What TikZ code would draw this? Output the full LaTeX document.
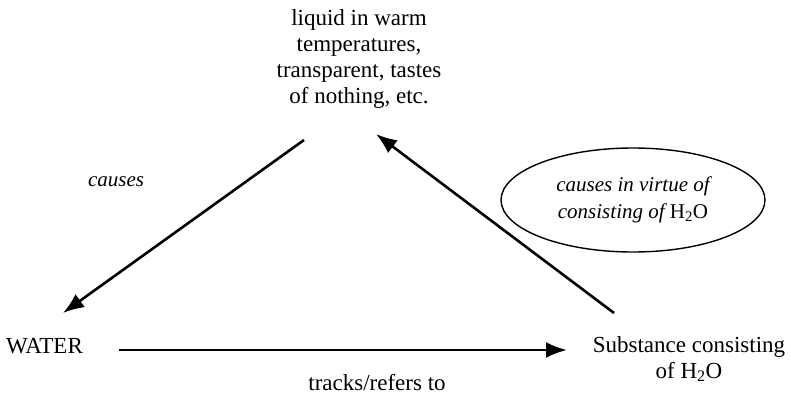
\documentclass[tikz,border=0pt]{standalone}
\usepackage{fontspec}
\setmainfont{Liberation Serif}
\usetikzlibrary{arrows.meta,shapes.geometric}
\begin{document}
\begin{tikzpicture}[x=1pt,y=-1pt,
  lbl/.style={inner sep=0pt,font=\fontsize{23}{26}\selectfont,align=center},
  conn/.style={line width=2.6pt,-{Latex[length=21pt,width=16pt]}},
  bubble/.style={draw,ellipse,line width=1.4pt,minimum width=264pt,minimum height=104pt,inner sep=0pt,font=\fontsize{21}{27}\selectfont\itshape,align=center}]
\useasboundingbox (0,0) rectangle (791,396);
\node[lbl,anchor=base] (top) at (359,103) {liquid in warm\\temperatures,\\transparent, tastes\\of nothing, etc.};
\node[lbl,anchor=base west] (water) at (6,353) {WATER};
\node[lbl,anchor=base] (subst) at (689,378) {Substance consisting\\of H\textsubscript{2}O};
\node[lbl,anchor=base] (tracks) at (377,390) {tracks/refers to};
\node[lbl,anchor=base,font=\fontsize{21}{26}\selectfont\itshape] (causes) at (116,186) {causes};
\node[bubble] (bub) at (633,200) {causes in virtue of\\consisting of \upshape H\textsubscript{2}O};
\coordinate (a1) at (304,140);
\coordinate (a2) at (63,313);
\coordinate (b1) at (614,313);
\coordinate (b2) at (376,134);
\coordinate (c1) at (119,350);
\coordinate (c2) at (567,350);
\draw[conn] (a1) -- (a2);
\draw[conn] (b1) -- (b2);
\draw[conn] (c1) -- (c2);
\end{tikzpicture}
\end{document}
